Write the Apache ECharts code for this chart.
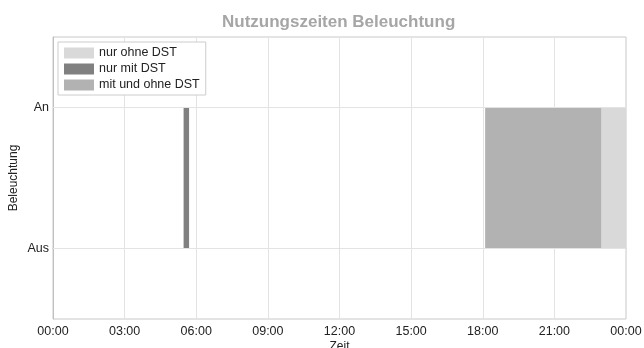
<!DOCTYPE html>
<html><head><meta charset="utf-8">
<script src="https://cdn.jsdelivr.net/npm/echarts@6/dist/echarts.min.js"></script>
<style>html,body{margin:0;padding:0;background:#fff}#c{width:644px;height:348px}</style>
</head><body><div id="c"></div>
<script>
const seriesNames = ['nur ohne DST', 'nur mit DST', 'mit und ohne DST'];
const seriesColors = ['#d9d9d9', '#808080', '#b2b2b2'];
// intervals [start hour, end hour] where light is on (An)
const nurOhneDST = [[22.97, 24]];
const nurMitDST = [[5.47, 5.7]];
const mitUndOhneDST = [[18.1, 22.97]];
const xTicks = [0, 3, 6, 9, 12, 15, 18, 21, 24];
const yLevels = [0, 1];
const yLabels = ['Aus', 'An'];

const allIntervals = [nurOhneDST, nurMitDST, mitUndOhneDST];
function fmtHour(v) { const h = Math.round(v) % 24; return (h < 10 ? '0' : '') + h + ':00'; }

const chart = echarts.init(document.getElementById('c'), null, {renderer: 'canvas'});
const font = 'Liberation Sans, Arial, sans-serif';
const series = seriesNames.map((name, i) => ({
  name: name,
  type: 'custom',
  itemStyle: {color: seriesColors[i]},
  data: allIntervals[i].map(d => [d[0], d[1], yLevels[0], yLevels[1]]),
  encode: {x: [0, 1], y: [2, 3]},
  renderItem: function (params, api) {
    const p1 = api.coord([api.value(0), api.value(3)]);
    const p2 = api.coord([api.value(1), api.value(2)]);
    return {type: 'rect', shape: {x: p1[0], y: p1[1], width: p2[0] - p1[0], height: p2[1] - p1[1]},
      style: {fill: seriesColors[i]}};
  }
}));
series.push({
  type: 'line', data: [], silent: true,
  markLine: {silent: true, symbol: 'none', label: {show: false},
    lineStyle: {color: '#e3e3e3', type: 'solid', width: 1},
    data: yLevels.map(v => ({yAxis: v}))}
});
chart.setOption({
  animation: false,
  title: {text: 'Nutzungszeiten Beleuchtung', left: 217, top: 9,
    textStyle: {fontFamily: font, fontSize: 17, fontWeight: 'bold', color: '#a6a6a6'}},
  legend: {orient: 'vertical', left: 58, top: 42, data: seriesNames,
    itemWidth: 30, itemHeight: 11, itemGap: 2, padding: [4, 6, 3, 6],
    borderColor: '#cccccc', borderWidth: 1, backgroundColor: '#fff',
    icon: 'rect',
    textStyle: {fontFamily: font, fontSize: 12.5, color: '#222', lineHeight: 14}},
  grid: {left: 53, right: 18, top: 37, bottom: 29, show: true, borderColor: '#c8c8c8', borderWidth: 1,
    outerBoundsMode: 'none', containLabel: false},
  xAxis: {type: 'value', min: 0, max: 24, interval: 3,
    name: 'Zeit', nameLocation: 'middle', nameGap: 22, nameMoveOverlap: false,
    nameTextStyle: {fontFamily: font, fontSize: 12, color: '#222'},
    axisLine: {show: true, lineStyle: {color: '#c0c0c0'}},
    axisTick: {show: false},
    axisLabel: {fontFamily: font, fontSize: 12.5, color: '#222', margin: 6, formatter: fmtHour},
    splitLine: {show: true, lineStyle: {color: '#e3e3e3'}}},
  yAxis: {type: 'value', min: -0.5, max: 1.5,
    name: 'Beleuchtung', nameLocation: 'middle', nameGap: 33, nameRotate: 90, nameMoveOverlap: false,
    nameTextStyle: {fontFamily: font, fontSize: 12, color: '#222'},
    axisLine: {show: true, lineStyle: {color: '#c0c0c0'}},
    axisTick: {show: false, customValues: yLevels},
    axisLabel: {fontFamily: font, fontSize: 12.5, color: '#222', margin: 4, customValues: yLevels,
      formatter: v => yLabels[yLevels.indexOf(v)]},
    splitLine: {show: false}},
  series: series
});
</script></body></html>
